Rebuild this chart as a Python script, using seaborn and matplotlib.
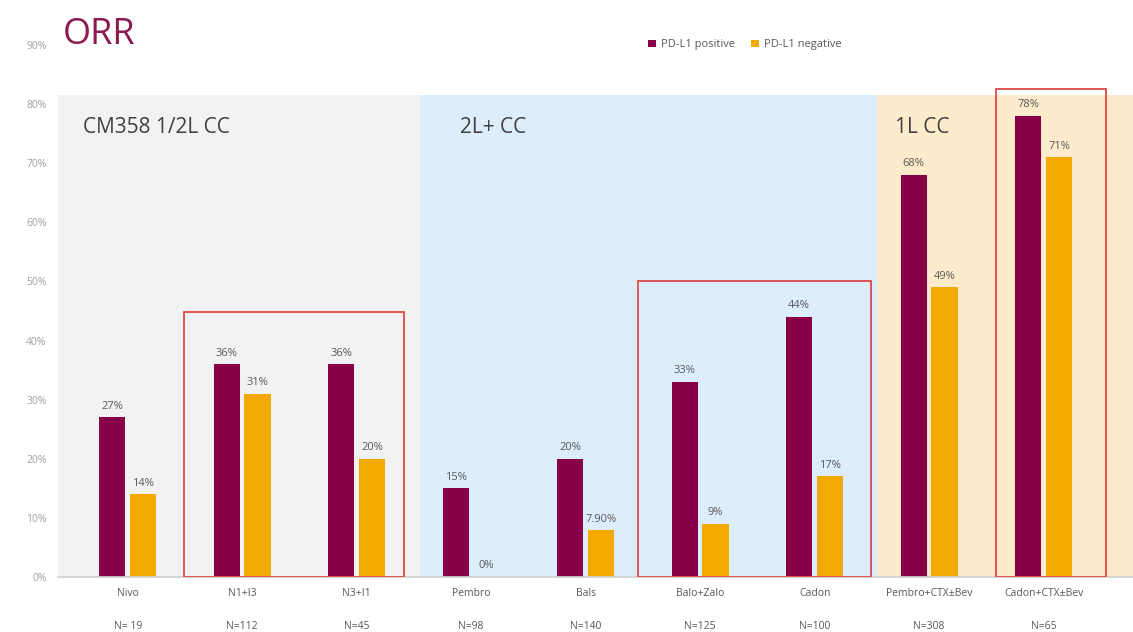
import pandas as pd
import seaborn as sns
import matplotlib.pyplot as plt
from matplotlib.patches import Rectangle

# data
cats = ['Nivo', 'N1+I3', 'N3+I1', 'Pembro', 'Bals', 'Balo+Zalo', 'Cadon',
        'Pembro+CTX±Bev', 'Cadon+CTX±Bev']
n_labels = ['N= 19', 'N=112', 'N=45', 'N=98', 'N=140', 'N=125', 'N=100',
            'N=308', 'N=65']
pos_vals = [27, 36, 36, 15, 20, 33, 44, 68, 78]
neg_vals = [14, 31, 20, 0, 7.9, 9, 17, 49, 71]
pos_text = ['27%', '36%', '36%', '15%', '20%', '33%', '44%', '68%', '78%']
neg_text = ['14%', '31%', '20%', '0%', '7.90%', '9%', '17%', '49%', '71%']
series = ['PD-L1 positive', 'PD-L1 negative']

df = pd.DataFrame({
    'cat': cats * 2,
    'orr': pos_vals + neg_vals,
    'grp': [series[0]] * len(cats) + [series[1]] * len(cats),
})

purple = '#870047'
gold = '#F2A900'
txt = '#595959'

sns.set_theme(style='white')
plt.rcParams['font.family'] = ['Open Sans', 'DejaVu Sans']

fig = plt.figure(figsize=(11.33, 6.32), dpi=100)
ax = fig.add_axes([0.051, 0.087, 0.949, 0.842])

# background panels
ax.axvspan(-0.61, 2.55, ymax=81.5 / 90, color='#F2F2F2', zorder=0, lw=0)
ax.axvspan(2.55, 6.54, ymax=81.5 / 90, color='#DCEDFB', zorder=0, lw=0)
ax.axvspan(6.54, 9.0, ymax=81.5 / 90, color='#FDEBCB', zorder=0, lw=0)

sns.barplot(data=df, x='cat', y='orr', hue='grp', palette=[purple, gold],
            width=0.54, gap=0.15, ax=ax, zorder=2, saturation=1, linewidth=0)

for cont, labs in zip(ax.containers, [pos_text, neg_text]):
    ax.bar_label(cont, labels=labs, padding=4, fontsize=8, color=txt)

# red highlight boxes
for x0, x1, top in [(0.49, 2.41, 44.8), (4.46, 6.49, 50.0), (7.58, 8.54, 82.5)]:
    ax.add_patch(Rectangle((x0, 0), x1 - x0, top, fill=False,
                           edgecolor='#E04848', lw=1.3, zorder=3))

ax.text(-0.39, 76, 'CM358 1/2L CC', fontsize=15, color='#404040', va='center')
ax.text(2.9, 76, '2L+ CC', fontsize=15, color='#404040', va='center')
ax.text(6.7, 76, '1L CC', fontsize=15, color='#404040', va='center')

ax.set_xlim(-0.61, 8.78)
ax.set_ylim(0, 90)
ax.set_yticks(range(0, 91, 10))
ax.set_yticklabels([f'{v}%' for v in range(0, 91, 10)], fontsize=7.5, color='#A0A0A0')
ax.set_xticks(range(len(cats)))
ax.set_xticklabels([f'{c}\n\n{n}' for c, n in zip(cats, n_labels)],
                   fontsize=7.5, color=txt, linespacing=1.7)
ax.tick_params(axis='both', length=0, pad=8)
ax.set_xlabel('')
ax.set_ylabel('')
for s in ['top', 'right', 'left']:
    ax.spines[s].set_visible(False)
ax.spines['bottom'].set_color('#D0D0D0')

ax.legend(loc='center left', bbox_to_anchor=(0.54, 1.0), ncol=2, frameon=False,
          fontsize=8, handlelength=0.7, handleheight=0.7, columnspacing=1.5,
          handletextpad=0.4, labelcolor=txt)

fig.text(0.055, 0.945, 'ORR', fontsize=26, color='#8B1A50', va='center')

fig.savefig('out.png', dpi=100)
